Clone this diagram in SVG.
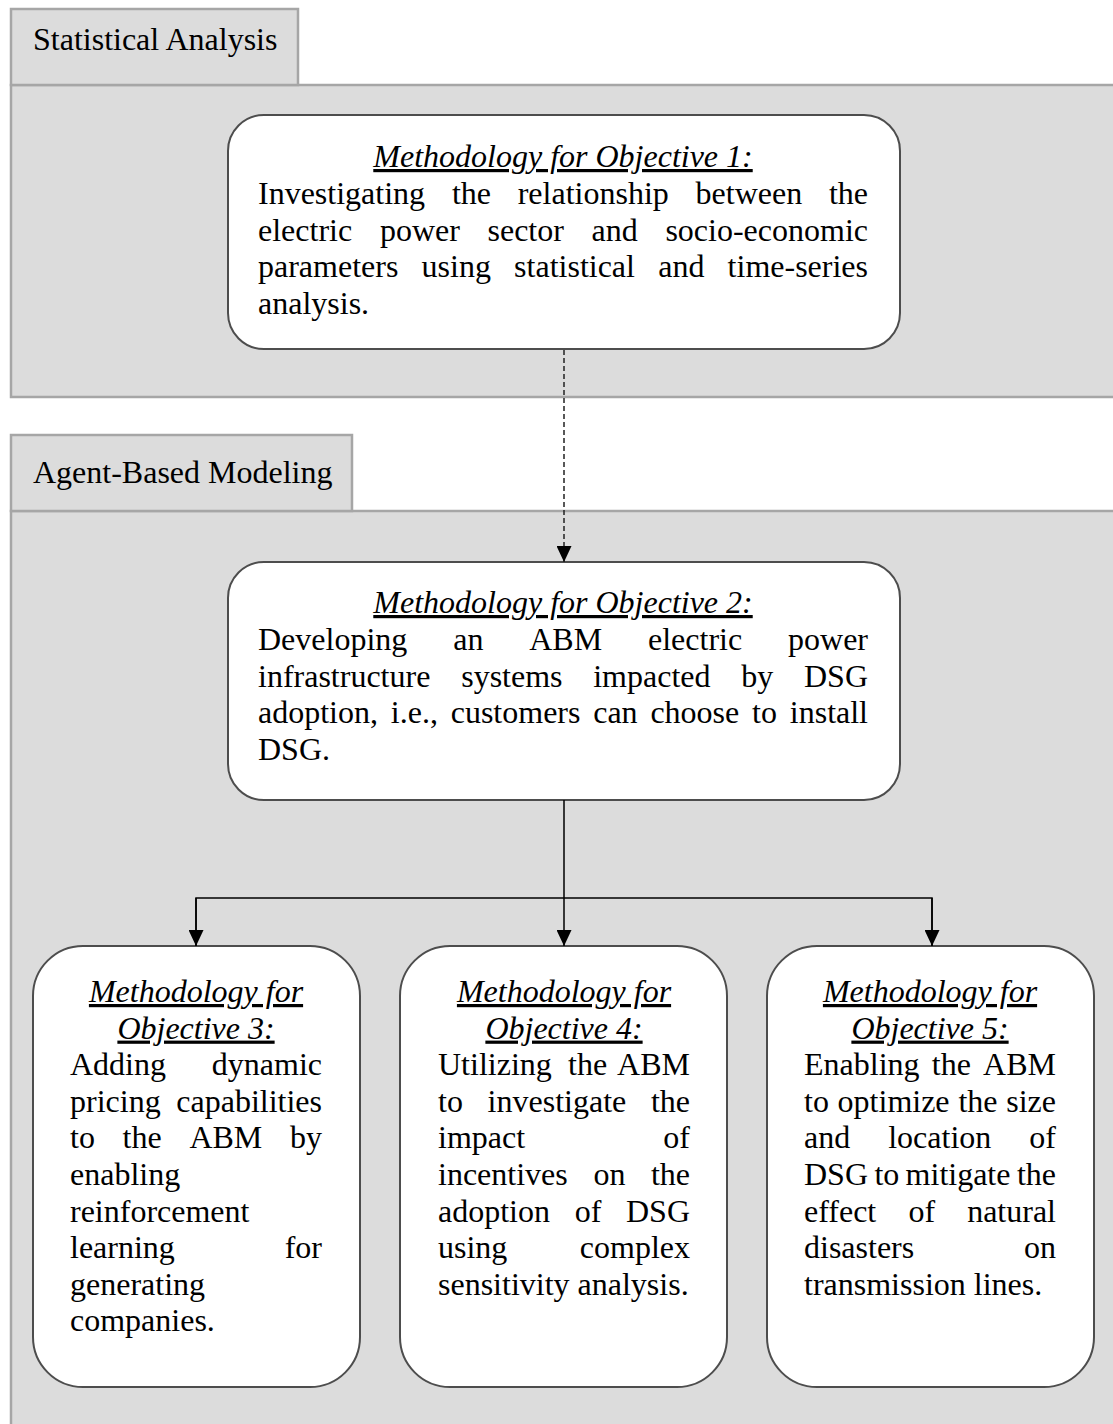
<svg xmlns="http://www.w3.org/2000/svg" width="1113" height="1424" viewBox="0 0 1113 1424">
  <style>
    .panel { fill: #dcdcdc; stroke: #a6a6a6; stroke-width: 2.5; }
    .box { fill: #ffffff; stroke: #4d4d4d; stroke-width: 2; }
    .t { font-family: "Liberation Serif", "Times New Roman", serif; font-size: 32px; fill: #000; }
    .h { font-style: italic; text-decoration: underline; text-anchor: middle; }
    .e { text-anchor: end; }
    .link { fill: none; stroke: #000; stroke-width: 1.5; }
    .dash { stroke-dasharray: 5 3; stroke: #222; }
  </style>
  <defs>
    <marker id="arrow" viewBox="0 0 16 15" refX="16" refY="7.5" markerWidth="16" markerHeight="15" markerUnits="userSpaceOnUse" orient="auto">
      <path d="M0,0 L16,7.5 L0,15 Z" fill="#000"/>
    </marker>
  </defs>

  <rect width="1113" height="1424" fill="#ffffff"/>

  <!-- Section: Statistical Analysis -->
  <g id="section-statistical">
    <rect class="panel" x="11" y="85" width="1120" height="312"/>
    <rect class="panel" x="11" y="9" width="287" height="76"/>
    <text class="t" x="33" y="50">Statistical Analysis</text>
  </g>

  <!-- Section: Agent-Based Modeling -->
  <g id="section-abm">
    <rect class="panel" x="11" y="511" width="1120" height="930"/>
    <rect class="panel" x="11" y="435" width="341" height="76"/>
    <text class="t" x="33" y="483">Agent-Based Modeling</text>
  </g>

  <!-- Objective 1 -->
  <g id="objective-1">
    <rect class="box" x="228" y="115" width="672" height="234" rx="36"/>
    <text class="t h" x="563" y="167">Methodology for Objective 1:</text>
    <text class="t" y="204"><tspan x="258">Investigating</tspan><tspan x="451.9">the</tspan><tspan x="517.7">relationship</tspan><tspan x="695.6">between</tspan><tspan x="868" class="e">the</tspan></text>
    <text class="t" y="240.6"><tspan x="258">electric</tspan><tspan x="379.9">power</tspan><tspan x="487.5">sector</tspan><tspan x="591.6">and</tspan><tspan x="868" class="e">socio-economic</tspan></text>
    <text class="t" y="277.2"><tspan x="258">parameters</tspan><tspan x="421.6">using</tspan><tspan x="514.1">statistical</tspan><tspan x="658.2">and</tspan><tspan x="868" class="e">time-series</tspan></text>
    <text class="t" x="258" y="313.8">analysis.</text>
  </g>

  <!-- Objective 2 -->
  <g id="objective-2">
    <rect class="box" x="228" y="562" width="672" height="238" rx="36"/>
    <text class="t h" x="563" y="613">Methodology for Objective 2:</text>
    <text class="t" y="650"><tspan x="258">Developing</tspan><tspan x="453.2">an</tspan><tspan x="529.2">ABM</tspan><tspan x="648">electric</tspan><tspan x="868" class="e">power</tspan></text>
    <text class="t" y="686.6"><tspan x="258">infrastructure</tspan><tspan x="461.2">systems</tspan><tspan x="593.2">impacted</tspan><tspan x="741.3">by</tspan><tspan x="868" class="e">DSG</tspan></text>
    <text class="t" y="723.2"><tspan x="258">adoption,</tspan><tspan x="390.8">i.e.,</tspan><tspan x="450.7">customers</tspan><tspan x="593.2">can</tspan><tspan x="650.4">choose</tspan><tspan x="752.1">to</tspan><tspan x="868" class="e">install</tspan></text>
    <text class="t" x="258" y="759.8">DSG.</text>
  </g>

  <!-- Objective 3 -->
  <g id="objective-3">
    <rect class="box" x="33" y="946" width="327" height="441" rx="50"/>
    <text class="t h" x="196" y="1002">Methodology for</text>
    <text class="t h" x="196" y="1038.6">Objective 3:</text>
    <text class="t" y="1075.2"><tspan x="70">Adding</tspan><tspan x="322" class="e">dynamic</tspan></text>
    <text class="t" y="1111.8"><tspan x="70">pricing</tspan><tspan x="322" class="e">capabilities</tspan></text>
    <text class="t" y="1148.4"><tspan x="70">to</tspan><tspan x="122.6">the</tspan><tspan x="189.4">ABM</tspan><tspan x="322" class="e">by</tspan></text>
    <text class="t" x="70" y="1185">enabling</text>
    <text class="t" x="70" y="1221.6">reinforcement</text>
    <text class="t" y="1258.2"><tspan x="70">learning</tspan><tspan x="322" class="e">for</tspan></text>
    <text class="t" x="70" y="1294.8">generating</text>
    <text class="t" x="70" y="1331.4">companies.</text>
  </g>

  <!-- Objective 4 -->
  <g id="objective-4">
    <rect class="box" x="400" y="946" width="327" height="441" rx="50"/>
    <text class="t h" x="564" y="1002">Methodology for</text>
    <text class="t h" x="564" y="1038.6">Objective 4:</text>
    <text class="t" y="1075.2"><tspan x="438">Utilizing</tspan><tspan x="568.1">the</tspan><tspan x="690" class="e">ABM</tspan></text>
    <text class="t" y="1111.8"><tspan x="438">to</tspan><tspan x="487.6">investigate</tspan><tspan x="690" class="e">the</tspan></text>
    <text class="t" y="1148.4"><tspan x="438">impact</tspan><tspan x="690" class="e">of</tspan></text>
    <text class="t" y="1185"><tspan x="438">incentives</tspan><tspan x="593.4">on</tspan><tspan x="690" class="e">the</tspan></text>
    <text class="t" y="1221.6"><tspan x="438">adoption</tspan><tspan x="574.7">of</tspan><tspan x="690" class="e">DSG</tspan></text>
    <text class="t" y="1258.2"><tspan x="438">using</tspan><tspan x="690" class="e">complex</tspan></text>
    <text class="t" x="438" y="1294.8">sensitivity analysis.</text>
  </g>

  <!-- Objective 5 -->
  <g id="objective-5">
    <rect class="box" x="767" y="946" width="327" height="441" rx="50"/>
    <text class="t h" x="930" y="1002">Methodology for</text>
    <text class="t h" x="930" y="1038.6">Objective 5:</text>
    <text class="t" y="1075.2"><tspan x="804">Enabling</tspan><tspan x="931.8">the</tspan><tspan x="1056" class="e">ABM</tspan></text>
    <text class="t" y="1111.8"><tspan x="804">to</tspan><tspan x="837.6">optimize</tspan><tspan x="958.4">the</tspan><tspan x="1056" class="e">size</tspan></text>
    <text class="t" y="1148.4"><tspan x="804">and</tspan><tspan x="888.2">location</tspan><tspan x="1056" class="e">of</tspan></text>
    <text class="t" y="1185"><tspan x="804">DSG</tspan><tspan x="874.4">to</tspan><tspan x="905.6">mitigate</tspan><tspan x="1056" class="e">the</tspan></text>
    <text class="t" y="1221.6"><tspan x="804">effect</tspan><tspan x="908.6">of</tspan><tspan x="1056" class="e">natural</tspan></text>
    <text class="t" y="1258.2"><tspan x="804">disasters</tspan><tspan x="1056" class="e">on</tspan></text>
    <text class="t" x="804" y="1294.8">transmission lines.</text>
  </g>

  <!-- Connectors -->
  <g id="connectors">
    <line class="link dash" x1="564" y1="350" x2="564" y2="562" marker-end="url(#arrow)"/>
    <line class="link" x1="564" y1="800" x2="564" y2="946" marker-end="url(#arrow)"/>
    <path class="link" d="M196,946 V898 H932 V946"/>
    <line class="link" x1="196" y1="898" x2="196" y2="946" marker-end="url(#arrow)"/>
    <line class="link" x1="932" y1="898" x2="932" y2="946" marker-end="url(#arrow)"/>
  </g>
</svg>
